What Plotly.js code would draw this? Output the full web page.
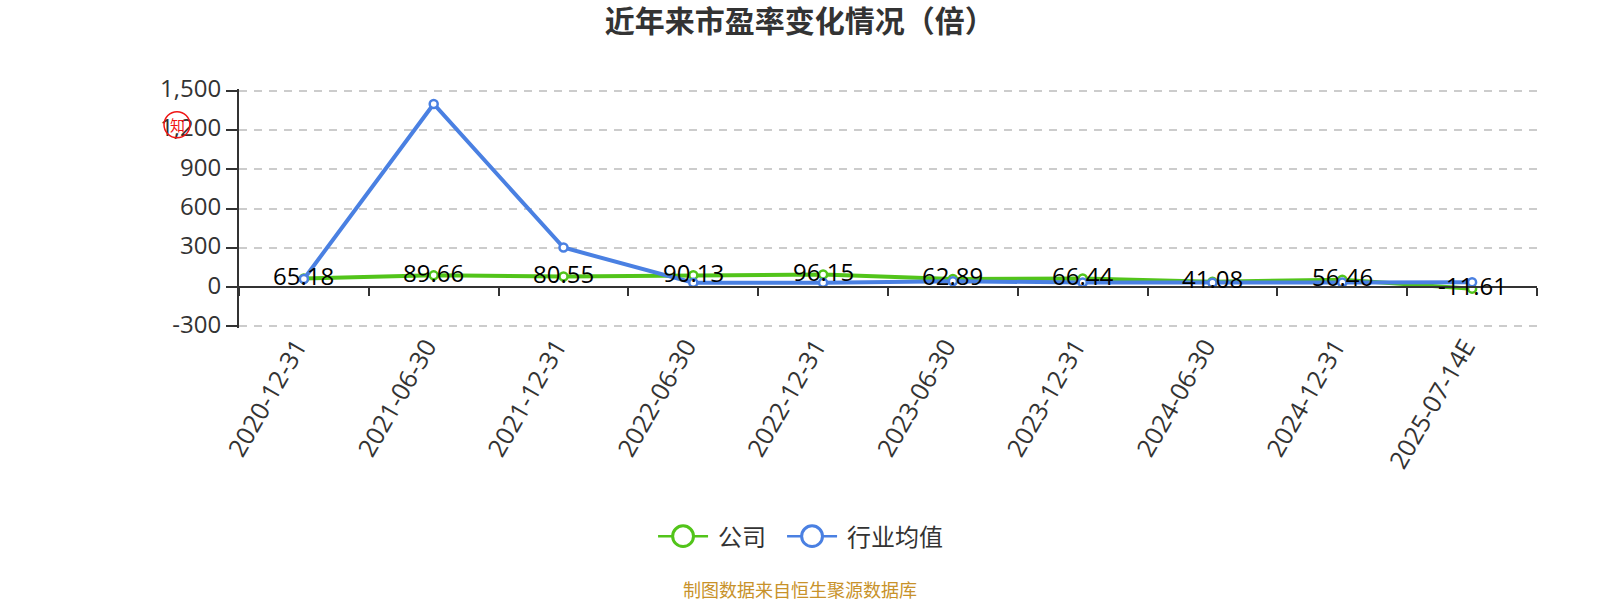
<!DOCTYPE html>
<html><head><meta charset="utf-8">
<script src="https://cdn.plot.ly/plotly-3.0.1.min.js"></script>
<style>html,body{margin:0;padding:0;background:#fff}</style></head>
<body><div id="chart" style="width:1600px;height:600px"></div>
<script>
const categories = ['2020-12-31','2021-06-30','2021-12-31','2022-06-30','2022-12-31','2023-06-30','2023-12-31','2024-06-30','2024-12-31','2025-07-14E'];
const companyValues = [65.18,89.66,80.55,90.13,96.15,62.89,66.44,41.08,56.46,-11.61];
const industryValues = [62,1398,302,33,33,45,35,33,35,38];
const yTicks = [-300,0,300,600,900,1200,1500];
const FONT = '"Open Sans","Noto Sans CJK SC",sans-serif';
const green = '#52c41a', blue = '#4a80e2', red = '#f01414';
function series(name, vals, color){
  return {type:'scatter',mode:'lines+markers',name,x:categories,y:vals,cliponaxis:false,
    line:{color,width:4},
    marker:{symbol:'circle',size:8,color:'#fff',line:{color,width:2.5}}};
}
const data=[series('公司',companyValues,green),series('行业均值',industryValues,blue)];
const W=1298, TOP=89.4, BOTTOM=327.6, H=BOTTOM-TOP;
const layout={
  width:1600,height:600,paper_bgcolor:'#fff',plot_bgcolor:'#fff',
  font:{family:FONT,color:'#333'},
  margin:{l:239,r:63,t:TOP,b:600-BOTTOM,pad:0},
  title:{text:'<b>近年来市盈率变化情况（倍）</b>',x:0.4998,xanchor:'center',y:0.964,yanchor:'middle',font:{size:30,color:'#333',family:FONT}},
  xaxis:{type:'category',categories,categoryorder:'array',categoryarray:categories,range:[-0.5,9.5],
    anchor:'free',position:312/1824,showline:true,linecolor:'#333',linewidth:2,
    ticks:'outside',ticklen:8,tickwidth:2,tickcolor:'#333',tickson:'boundaries',showgrid:false,
    tickangle:-60,ticklabelstandoff:34,ticklabelshift:-7,tickfont:{size:25,color:'#333'},automargin:false,zeroline:false},
  yaxis:{range:[-312,1512],tickmode:'array',tickvals:yTicks,ticktext:yTicks.map(v=>v.toLocaleString('en-US')),
    showline:true,linecolor:'#333',linewidth:2,ticks:'outside',ticklen:11,tickwidth:2,tickcolor:'#333',ticklabelshift:-2,
    tickfont:{size:24,color:'#333'},showgrid:true,gridcolor:'#ccc',gridwidth:2,griddash:'8px,7px',zeroline:false,automargin:false},
  showlegend:true,
  legend:{orientation:'h',x:0.319,xanchor:'left',y:(BOTTOM-535.5)/H,yanchor:'middle',font:{size:24,color:'#333'},itemwidth:50,traceorder:'normal',bgcolor:'rgba(0,0,0,0)'},
  shapes:[{type:'circle',xref:'paper',yref:'paper',xsizemode:'pixel',ysizemode:'pixel',
    xanchor:(177-239)/W,yanchor:(BOTTOM-125)/H,x0:-13,x1:13,y0:-13,y1:13,line:{color:red,width:1.5},fillcolor:'rgba(0,0,0,0)',layer:'above'}],
  annotations:companyValues.map((v,i)=>({x:categories[i],y:v,text:v.toFixed(2),showarrow:false,yshift:3,xanchor:'center',yanchor:'middle',font:{size:24,color:'#000'}}))
   .concat([
    {xref:'paper',yref:'paper',x:(800-239)/W,y:(BOTTOM-588.5)/H,text:'制图数据来自恒生聚源数据库',showarrow:false,xanchor:'center',yanchor:'middle',font:{size:18,color:'#c8922a'}},
    {xref:'paper',yref:'paper',x:(177-239)/W,y:(BOTTOM-125)/H,text:'知',showarrow:false,xanchor:'center',yanchor:'middle',font:{size:15,color:red}}
    ])
};
Plotly.newPlot('chart',data,layout,{displayModeBar:false,staticPlot:true}).then(()=>{
  const root=document.getElementById('chart');
  const sb=root.querySelector('.legend .scrollbox'); if(sb) sb.removeAttribute('clip-path');
  root.querySelectorAll('.legend .traces').forEach((t,i)=>{
    const m=/translate\(([-\d.]+)[ ,]*([-\d.]*)\)/.exec(t.getAttribute('transform'));
    if(m&&i>0) t.setAttribute('transform',`translate(${parseFloat(m[1])+16},${m[2]||0})`);
    const txt=t.querySelector('.legendtext'); txt.setAttribute('x',parseFloat(txt.getAttribute('x'))+5);
    const ln=t.querySelector('.legendlines path'); if(ln) ln.style.strokeWidth='2.5px';
    const pt=t.querySelector('.legendpoints path.scatterpts');
    if(pt){pt.setAttribute('transform',pt.getAttribute('transform')+' scale(2.6)');pt.style.strokeWidth='1.15px';}
  });
});
</script></body></html>
